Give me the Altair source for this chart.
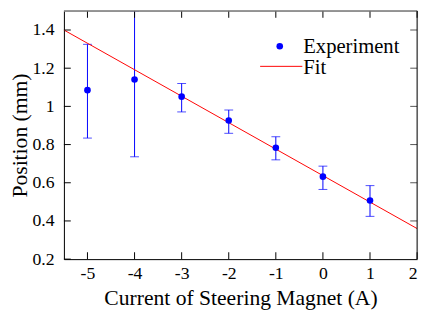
import altair as alt
import pandas as pd

# data
current = [-5, -4, -3, -2, -1, 0, 1]
position = [1.085, 1.141, 1.051, 0.926, 0.783, 0.632, 0.507]
err_hi = [1.325, 1.5, 1.12, 0.981, 0.841, 0.687, 0.585]
err_lo = [0.834, 0.736, 0.971, 0.859, 0.72, 0.565, 0.424]

fit_x = [-5.5, 2.0]
fit_y = [1.4, 0.36]

x_ticks = [-5, -4, -3, -2, -1, 0, 1, 2]
y_ticks = [0.2, 0.4, 0.6, 0.8, 1.0, 1.2, 1.4]

W, H = 360, 253
FONT = "Liberation Serif"

df = pd.DataFrame({"x": current, "y": position, "hi": err_hi, "lo": err_lo})
fit = pd.DataFrame({"x": fit_x, "y": fit_y})
xt = pd.DataFrame({"v": x_ticks})
yt = pd.DataFrame({"v": y_ticks})

xs = alt.Scale(domain=[-5.5, 2], nice=False, zero=False)
ys = alt.Scale(domain=[0.2, 1.5], nice=False, zero=False)

x_axis = alt.Axis(values=x_ticks, labelExpr="datum.value + ''", grid=False, ticks=False,
                  domainColor="black", labelFont=FONT, labelFontSize=18, labelColor="black",
                  labelPadding=6, title="Current of Steering Magnet (A)", titleFont=FONT,
                  titleFontSize=22, titleFontWeight="normal", titleColor="black", titlePadding=5)
y_axis = alt.Axis(values=y_ticks, labelExpr="datum.value + ''", grid=False, ticks=False,
                  domainColor="black", labelFont=FONT, labelFontSize=18, labelColor="black",
                  labelPadding=10, title="Position (mm)", titleFont=FONT, titleFontSize=22,
                  titleFontWeight="normal", titleColor="black", titlePadding=1)

bars = alt.Chart(df).mark_rule(color="#0000ff", strokeWidth=1, clip=True).encode(
    x=alt.X("x:Q", scale=xs, axis=x_axis),
    y=alt.Y("lo:Q", scale=ys, axis=y_axis),
    y2="hi:Q",
)
cap_hi = alt.Chart(df).mark_tick(color="#0000ff", orient="horizontal", size=9, thickness=1, clip=True).encode(
    x=alt.X("x:Q", scale=xs), y=alt.Y("hi:Q", scale=ys))
cap_lo = alt.Chart(df).mark_tick(color="#0000ff", orient="horizontal", size=9, thickness=1, clip=True).encode(
    x=alt.X("x:Q", scale=xs), y=alt.Y("lo:Q", scale=ys))
pts = alt.Chart(df).mark_circle(color="#0000ff", opacity=1, size=45).encode(
    x=alt.X("x:Q", scale=xs), y=alt.Y("y:Q", scale=ys))
line = alt.Chart(fit).mark_line(color="#ff0000", strokeWidth=1, clip=True).encode(
    x=alt.X("x:Q", scale=xs), y=alt.Y("y:Q", scale=ys))

# inward ticks on all four sides
t_bottom = alt.Chart(xt).mark_rule(color="black").encode(
    x=alt.X("v:Q", scale=xs), y=alt.value(H), y2=alt.value(H - 7))
t_top = alt.Chart(xt).mark_rule(color="black").encode(
    x=alt.X("v:Q", scale=xs), y=alt.value(0), y2=alt.value(7))
t_left = alt.Chart(yt).mark_rule(color="black").encode(
    y=alt.Y("v:Q", scale=ys), x=alt.value(0), x2=alt.value(7))
t_right = alt.Chart(yt[yt.v > 0.3]).mark_rule(color="#555555").encode(
    y=alt.Y("v:Q", scale=ys), x=alt.value(W), x2=alt.value(W - 7))

frame_top = alt.Chart(xt.head(1)).mark_rule(color="#777777", strokeWidth=1.5).encode(
    x=alt.value(0), x2=alt.value(W), y=alt.value(0))
frame_right = alt.Chart(xt.head(1)).mark_rule(color="black", strokeWidth=1).encode(
    x=alt.value(W), y=alt.value(0), y2=alt.value(H))

# legend
leg_dot = alt.Chart(xt.head(1)).mark_circle(color="#0000ff", opacity=1, size=45).encode(
    x=alt.value(220), y=alt.value(36))
leg_line = alt.Chart(xt.head(1)).mark_rule(color="#ff0000", strokeWidth=1).encode(
    x=alt.value(200), x2=alt.value(243), y=alt.value(56.5))
leg_t1 = alt.Chart(xt.head(1)).mark_text(text="Experiment", font=FONT, fontSize=21, align="left",
                                         baseline="middle", color="black").encode(
    x=alt.value(244), y=alt.value(37))
leg_t2 = alt.Chart(xt.head(1)).mark_text(text="Fit", font=FONT, fontSize=21, align="left",
                                         baseline="middle", color="black").encode(
    x=alt.value(244), y=alt.value(58))

chart = alt.layer(
    bars, cap_hi, cap_lo, line, pts, t_bottom, t_top, t_left, t_right,
    frame_top, frame_right, leg_dot, leg_line, leg_t1, leg_t2
).properties(
    width=W, height=H,
    autosize=alt.AutoSizeParams(type="none"),
    padding={"left": 57, "top": 0, "right": 5, "bottom": 55},
).configure_view(stroke=None).configure(background="white", font=FONT)

chart.save("out.html", embed_options={"renderer": "svg", "actions": False})
